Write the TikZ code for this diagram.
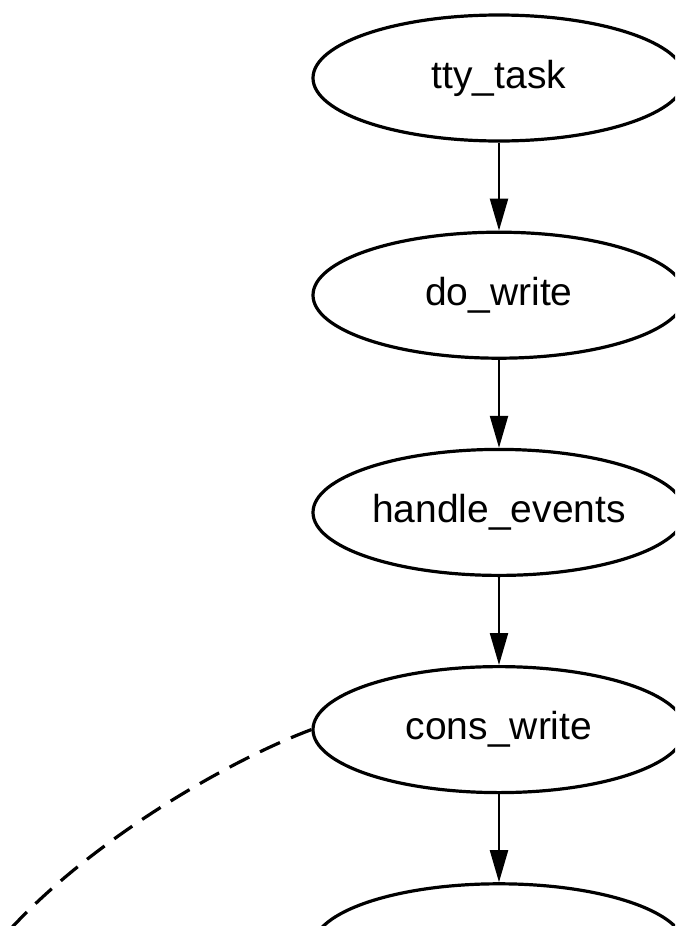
\documentclass[tikz,border=0pt]{standalone}
\usepackage{fontspec}
\setmainfont{Liberation Sans}
\usetikzlibrary{arrows.meta,positioning,shapes.geometric}

\begin{document}
\begin{tikzpicture}[
    x=0.5pt, y=-0.5pt,
    >={Triangle[length=16pt,width=9pt]},
    node distance=44pt,
    func/.style={draw, ellipse, line width=1.6pt, minimum width=186pt,
       minimum height=63pt, inner sep=0pt, font=\fontsize{19.5}{22}\selectfont},
    call/.style={->, line width=1.1pt},
    alias/.style={line width=1.6pt, dash pattern=on 11pt off 6pt}
  ]
    \useasboundingbox (0,0) rectangle (675,926);
    \clip (0,0) rectangle (675,926);

    % Call chain
    \node[func] (tty) at (499,78) {tty\_task};
    \node[func, below=of tty]  (dowrite) {do\_write};
    \node[func, below=of dowrite] (events) {handle\_events};
    \node[func, below=of events]  (cons)   {cons\_write};
    \node[func, below=of cons]    (outch)  {out\_char};

    \draw[call] (tty) -- (dowrite);
    \draw[call] (dowrite) -- (events);
    \draw[call] (events) -- (cons);
    \draw[call] (cons) -- (outch);

    % Dashed link leaving the picture
    \coordinate (away) at (5,935);
    \draw[alias] (cons.west) .. controls (230,760) and (90,840) .. (away);
  \end{tikzpicture}
\end{document}
